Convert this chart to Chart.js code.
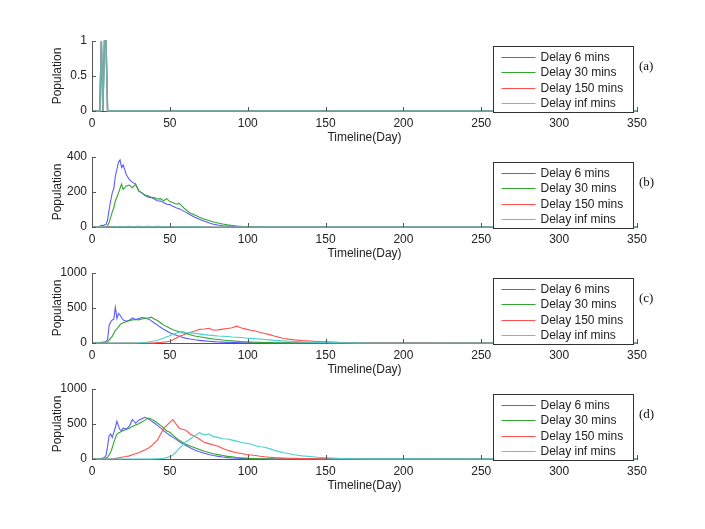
<!DOCTYPE html>
<html>
<head>
<meta charset="utf-8">
<script src="https://cdn.jsdelivr.net/npm/chart.js@4.4.1/dist/chart.umd.min.js"></script>
<style>
  html, body { margin: 0; padding: 0; background: #fff; }
  #wrap { position: relative; width: 705px; height: 529px; background: #fff; overflow: hidden; }
  #wrap canvas { position: absolute; left: 0; }
</style>
</head>
<body>
<div id="wrap">
  <canvas id="pa" width="705" height="116" style="top:35px;width:705px;height:116px"></canvas>
  <canvas id="pb" width="705" height="116" style="top:151px;width:705px;height:116px"></canvas>
  <canvas id="pc" width="705" height="116" style="top:267px;width:705px;height:116px"></canvas>
  <canvas id="pd" width="705" height="116" style="top:383px;width:705px;height:116px"></canvas>
</div>
<script>
// legend labels, one per delay setting
const SERIES_LABELS = ['Delay 6 mins', 'Delay 30 mins', 'Delay 150 mins', 'Delay inf mins'];
const PANEL_TAGS = ['(a)', '(b)', '(c)', '(d)'];

// panel (a)
const A_DAYS = [0, 5, 6, 7, 8, 9, 10, 350];
const A_D6   = [0, 0, 1, 0, 1, 1, 0, 0];
const A_D30  = [0, 0, 1, 0, 1, 1, 0, 0];
const A_D150 = [0, 0, 1, 0, 1, 1, 0, 0];
const A_DINF = [0, 0, 1, 0, 1, 1, 0, 0];

// shared day grid for panels (b), (c), (d)
const DAYS = [0, 4, 5, 6, 7, 8, 9, 10, 11, 12, 13, 14, 15, 16, 17, 18, 19, 20,
  22, 24, 26, 28, 30, 32, 34, 36, 38, 40, 42, 44, 46, 48, 50, 52, 54, 56, 58, 60,
  63, 66, 69, 72, 75, 78, 81, 84, 87, 90, 93, 96, 99, 102, 105, 108, 111, 114, 117, 120, 123, 126,
  130, 135, 140, 145, 150, 155, 160,
  170, 180, 350];

// panel (b)
const B_D6 = [0, 0, 5, 10, 8, 12, 15, 40, 100, 150, 195, 220, 290, 330, 370, 383, 340, 355,
  300, 270, 255, 245, 205, 195, 180, 172, 168, 160, 150, 148, 140, 130, 128, 118, 110, 104, 95, 85,
  70, 56, 44, 34, 24, 16, 11, 7, 5, 3, 2, 1, 1, 0, 0, 0, 0, 0, 0, 0, 0, 0,
  0, 0, 0, 0, 0, 0, 0,
  0, 0, 0];
const B_D30 = [0, 0, 0, 0, 0, 0, 2, 8, 25, 55, 85, 110, 150, 170, 195, 220, 245, 215,
  235, 240, 225, 245, 208, 195, 182, 178, 170, 168, 160, 162, 150, 162, 145, 140, 130, 135, 118, 100,
  80, 68, 56, 46, 37, 29, 23, 17, 12, 9, 6, 4, 3, 2, 1, 1, 0, 0, 0, 0, 0, 0,
  0, 0, 0, 0, 0, 0, 0,
  0, 0, 0];
const B_D150 = [0, 0, 0, 0, 0, 0, 0, 2, 3, 2, 3, 4, 3, 2, 3, 4, 3, 3,
  3, 4, 3, 3, 4, 3, 3, 4, 3, 3, 4, 3, 3, 2, 3, 3, 2, 3, 2, 2,
  2, 2, 1, 1, 1, 0, 0, 0, 0, 0, 0, 0, 0, 0, 0, 0, 0, 0, 0, 0, 0, 0,
  0, 0, 0, 0, 0, 0, 0,
  0, 0, 0];
const B_DINF = [0, 0, 0, 0, 0, 0, 0, 0, 0, 0, 1, 1, 1, 1, 1, 1, 1, 1,
  1, 1, 1, 1, 1, 1, 1, 1, 1, 1, 1, 1, 1, 1, 1, 1, 1, 1, 1, 1,
  1, 1, 1, 0, 0, 0, 0, 0, 0, 0, 0, 0, 0, 0, 0, 0, 0, 0, 0, 0, 0, 0,
  0, 0, 0, 0, 0, 0, 0,
  0, 0, 0];

// panel (c)
const C_D6 = [0, 0, 5, 10, 12, 15, 20, 50, 250, 300, 330, 340, 510, 350, 420, 400, 360, 330,
  310, 325, 360, 335, 350, 365, 355, 345, 320, 285, 255, 225, 195, 170, 145, 125, 110, 95, 82, 70,
  56, 46, 38, 31, 25, 20, 15, 12, 9, 7, 5, 4, 3, 2, 1, 1, 0, 0, 0, 0, 0, 0,
  0, 0, 0, 0, 0, 0, 0,
  0, 0, 0];
const C_D30 = [0, 0, 0, 3, 5, 8, 10, 15, 40, 70, 95, 140, 180, 200, 230, 260, 279, 290,
  305, 320, 331, 335, 331, 342, 350, 358, 370, 342, 320, 290, 255, 235, 212, 190, 175, 160, 150, 135,
  118, 100, 90, 78, 66, 58, 50, 42, 36, 30, 25, 20, 17, 14, 11, 9, 7, 5, 4, 3, 2, 2,
  1, 1, 0, 0, 0, 0, 0,
  0, 0, 0];
const C_D150 = [0, 0, 0, 0, 0, 0, 0, 0, 0, 0, 0, 0, 0, 0, 0, 0, 0, 0,
  0, 0, 0, 0, 0, 0, 0, 0, 0, 2, 5, 8, 12, 18, 25, 45, 68, 95, 110, 130,
  150, 170, 195, 200, 210, 182, 188, 198, 208, 218, 240, 215, 198, 182, 172, 150, 135, 120, 100, 82, 65, 55,
  45, 35, 28, 22, 16, 12, 8,
  4, 2, 0];
const C_DINF = [0, 0, 0, 0, 0, 0, 0, 0, 0, 0, 0, 0, 0, 0, 0, 0, 0, 0,
  0, 0, 0, 1, 3, 6, 10, 15, 22, 28, 40, 55, 70, 88, 105, 125, 140, 155, 162, 150,
  145, 138, 130, 120, 112, 106, 100, 96, 92, 86, 82, 78, 72, 66, 60, 55, 50, 45, 38, 34, 30, 26,
  22, 18, 14, 10, 8, 6, 4,
  2, 1, 0];

// panel (d)
const D_D6 = [0, 0, 5, 8, 12, 20, 48, 180, 333, 357, 309, 380, 450, 540, 470, 420, 405, 440,
  428, 470, 565, 510, 555, 575, 595, 575, 545, 515, 480, 445, 405, 370, 340, 309, 280, 250, 220, 195,
  160, 130, 105, 82, 65, 50, 38, 28, 20, 14, 10, 7, 5, 3, 2, 1, 0, 0, 0, 0, 0, 0,
  0, 0, 0, 0, 0, 0, 0,
  0, 0, 0];
const D_D30 = [0, 0, 0, 2, 5, 10, 15, 24, 60, 95, 160, 238, 300, 357, 370, 381, 395, 405,
  420, 440, 466, 485, 505, 530, 555, 585, 571, 547, 515, 480, 445, 400, 381, 340, 300, 270, 240, 214,
  185, 160, 135, 110, 92, 75, 62, 50, 38, 30, 22, 16, 12, 8, 6, 4, 3, 2, 1, 1, 0, 0,
  0, 0, 0, 0, 0, 0, 0,
  0, 0, 0];
const D_D150 = [0, 0, 0, 0, 0, 0, 0, 0, 0, 2, 4, 6, 9, 12, 16, 20, 24, 28,
  35, 45, 62, 75, 90, 110, 130, 152, 185, 228, 270, 350, 440, 480, 524, 562, 500, 440, 425, 415,
  357, 320, 285, 238, 220, 200, 181, 150, 125, 105, 90, 78, 65, 58, 50, 40, 32, 26, 20, 16, 13, 11,
  9, 6, 5, 4, 3, 2, 1,
  0, 0, 0];
const D_DINF = [0, 0, 0, 0, 0, 0, 0, 0, 0, 0, 0, 0, 0, 0, 0, 0, 0, 0,
  0, 0, 0, 0, 0, 0, 0, 0, 0, 2, 4, 6, 10, 20, 35, 57, 100, 150, 190, 240,
  285, 330, 375, 345, 357, 320, 309, 290, 286, 270, 255, 235, 225, 214, 190, 175, 167, 148, 125, 105, 90, 78,
  60, 45, 35, 25, 18, 12, 8,
  4, 2, 0];

const LINE_RGB = [[90, 90, 255], [50, 165, 50], [255, 80, 80], [70, 210, 210]];
const AXIS_COLOR = '#555';

Chart.defaults.font.family = '"Liberation Sans", Arial, sans-serif';
Chart.defaults.font.size = 12;
Chart.defaults.color = '#222';

// matlab style ticks pointing into the plot
const inwardTicks = {
  id: 'inwardTicks',
  afterDatasetsDraw(chart) {
    const { ctx, chartArea: ca, scales } = chart;
    ctx.save();
    ctx.strokeStyle = AXIS_COLOR;
    ctx.lineWidth = 1;
    ctx.beginPath();
    scales.x.ticks.forEach(t => {
      const px = Math.round(scales.x.getPixelForValue(t.value)) + 0.5;
      ctx.moveTo(px, ca.bottom);
      ctx.lineTo(px, ca.bottom - 4);
    });
    scales.y.ticks.forEach(t => {
      const py = Math.round(scales.y.getPixelForValue(t.value)) + 0.5;
      ctx.moveTo(ca.left, py);
      ctx.lineTo(ca.left + 4, py);
    });
    ctx.stroke();
    ctx.restore();
  }
};

// boxed legend in the lower right corner plus the panel tag
const boxLegend = {
  id: 'boxLegend',
  afterDraw(chart, args, opts) {
    const { ctx, chartArea: ca } = chart;
    const x0 = Math.round(ca.right - 144) + 0.5;
    const y0 = Math.round(ca.top + 5) + 0.5;
    const w = 140, h = 66;
    ctx.save();
    ctx.fillStyle = '#fff';
    ctx.fillRect(x0, y0, w, h);
    ctx.strokeStyle = '#333';
    ctx.lineWidth = 1;
    ctx.strokeRect(x0, y0, w, h);
    ctx.font = '12px "Liberation Sans", Arial, sans-serif';
    ctx.textBaseline = 'middle';
    SERIES_LABELS.forEach((label, i) => {
      const y = Math.round(y0 + 10 + i * 15.5) + 0.5;
      const c = LINE_RGB[i];
      ctx.strokeStyle = 'rgb(' + c.join(',') + ')';
      ctx.beginPath();
      ctx.moveTo(x0 + 8, y);
      ctx.lineTo(x0 + 42, y);
      ctx.stroke();
      ctx.fillStyle = '#222';
      ctx.fillText(label, x0 + 47, y);
    });
    ctx.font = '13px "Liberation Serif", "Times New Roman", serif';
    ctx.fillStyle = '#111';
    ctx.fillText(opts.tag, ca.right + 2, ca.top + 26);
    ctx.restore();
  }
};

function makePanel(canvasId, days, series, yMax, yStep, tag, alpha) {
  let datasets = series.map((vals, i) => ({
    label: SERIES_LABELS[i],
    data: days.map((d, k) => ({ x: d, y: vals[k] })),
    borderColor: 'rgba(' + LINE_RGB[i].join(',') + ',' + alpha + ')',
    borderWidth: alpha < 1 ? 1.4 : 1.1,
    pointRadius: 0,
    tension: 0,
    clip: 4,
    order: 4 - i
  }));

  new Chart(document.getElementById(canvasId), {
    type: 'line',
    data: { datasets: datasets },
    options: {
      responsive: false,
      animation: false,
      layout: { padding: { top: 6, right: 68, left: 0, bottom: 0 } },
      plugins: {
        legend: { display: false },
        tooltip: { enabled: false },
        boxLegend: { tag: tag }
      },
      scales: {
        x: {
          type: 'linear',
          min: 0,
          max: 350,
          ticks: { stepSize: 50, padding: 5, maxRotation: 0, autoSkip: false, color: '#222' },
          grid: { display: false, drawTicks: false },
          border: { display: true, color: AXIS_COLOR },
          title: { display: true, text: 'Timeline(Day)', color: '#222', padding: { top: 0, bottom: 6 } },
          afterFit: s => { s.height = 40; s.paddingLeft = 0; s.paddingRight = 0; }
        },
        y: {
          min: 0,
          max: yMax,
          ticks: { stepSize: yStep, padding: 5, color: '#222', callback: v => String(v) },
          grid: { display: false, drawTicks: false },
          border: { display: true, color: AXIS_COLOR },
          title: { display: true, text: 'Population', color: '#222', padding: { top: 50, bottom: 0 } },
          afterFit: s => { s.width = 92; s.paddingTop = 0; s.paddingBottom = 0; }
        }
      }
    },
    plugins: [inwardTicks, boxLegend]
  });
}

makePanel('pa', A_DAYS, [A_D6, A_D30, A_D150, A_DINF], 1, 0.5, PANEL_TAGS[0], 0.7);
makePanel('pb', DAYS, [B_D6, B_D30, B_D150, B_DINF], 400, 200, PANEL_TAGS[1], 1);
makePanel('pc', DAYS, [C_D6, C_D30, C_D150, C_DINF], 1000, 500, PANEL_TAGS[2], 1);
makePanel('pd', DAYS, [D_D6, D_D30, D_D150, D_DINF], 1000, 500, PANEL_TAGS[3], 1);
</script>
</body>
</html>
